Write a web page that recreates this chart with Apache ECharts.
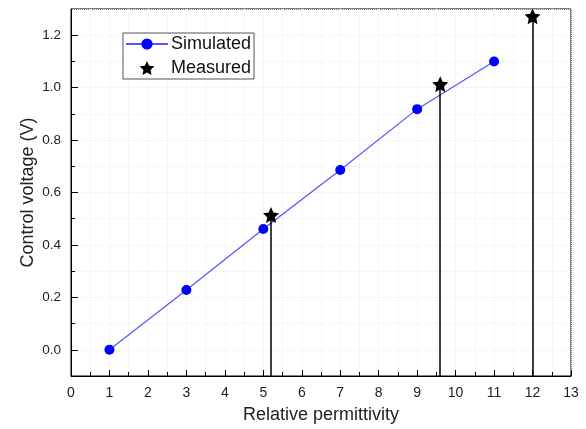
<!DOCTYPE html>
<html>
<head>
<meta charset="utf-8">
<script src="https://cdn.jsdelivr.net/npm/echarts@6/dist/echarts.min.js"></script>
<style>
  html, body { margin: 0; padding: 0; background: #fff; }
  #chart { width: 586px; height: 429px; }
</style>
</head>
<body>
<div id="chart"></div>
<script>
// Data
const simX = [1, 3, 5, 7, 9, 11];
const simY = [0.0, 0.228, 0.461, 0.686, 0.918, 1.10];
const measX = [5.2, 9.6, 12];
const measY = [0.514, 1.013, 1.272];
const yMajor = [0, 0.2, 0.4, 0.6, 0.8, 1.0, 1.2];

const Y_MIN = -0.1, Y_MAX = 1.3;
const starPath = 'path://M50,0 L64.1,30.6 L97.6,34.5 L72.8,57.4 L79.4,90.5 L50,74 L20.6,90.5 L27.2,57.4 L2.4,34.5 L35.9,30.6 Z';
const font = 'Liberation Sans, Arial, sans-serif';

document.addEventListener('DOMContentLoaded', function() {
    const chart = echarts.init(document.getElementById('chart'));

    // vertical drop lines from the bottom of the plot up to each measured star
    const dropLines = measX.map((x, i) => [
        { coord: [x, Y_MIN] },
        { coord: [x, measY[i]] }
    ]);

    const option = {
        animation: false,
        grid: {
            left: 71, right: 15, top: 9, bottom: 53,
            show: true, borderColor: '#000', borderWidth: 1
        },
        legend: {
            left: 123, top: 33,
            orient: 'vertical',
            backgroundColor: '#fff',
            borderColor: '#555', borderWidth: 1,
            padding: [2, 3, 2, 2],
            itemGap: 6,
            itemWidth: 42, itemHeight: 14,
            textStyle: { fontFamily: font, fontSize: 18, color: '#111', padding: [0, 0, 0, -2] },
            data: ['Simulated', 'Measured']
        },
        xAxis: {
            type: 'value',
            min: 0, max: 13, interval: 1,
            name: 'Relative permittivity',
            nameLocation: 'middle', nameGap: 30,
            nameMoveOverlap: false,
            nameTextStyle: { fontFamily: font, fontSize: 18, color: '#222' },
            axisLine: { show: true, onZero: false, lineStyle: { color: '#000', width: 1 } },
            axisTick: { show: true, inside: true, length: 6, lineStyle: { color: '#000' } },
            minorTick: { show: true, splitNumber: 2, length: 4, lineStyle: { color: '#000' } },
            axisLabel: { fontFamily: font, fontSize: 14, color: '#222', margin: 10 },
            splitLine: { show: true, lineStyle: { color: '#ebebeb', type: 'dotted' } },
            minorSplitLine: { show: true, lineStyle: { color: '#ebebeb', type: 'dotted' } }
        },
        yAxis: [{
            type: 'value',
            min: Y_MIN, max: Y_MAX, interval: 0.1,
            name: 'Control voltage (V)',
            nameLocation: 'middle', nameGap: 34,
            nameMoveOverlap: false,
            nameTextStyle: { fontFamily: font, fontSize: 18, color: '#222' },
            axisLine: { show: true, onZero: false, lineStyle: { color: '#000', width: 1 } },
            axisTick: { show: true, inside: true, length: 4, lineStyle: { color: '#000' } },
            axisLabel: {
                fontFamily: font, fontSize: 13.5, color: '#222', margin: 10,
                showMinLabel: false, showMaxLabel: false,
                formatter: function(v) {
                    const k = Math.round(v * 10);
                    return (k % 2 === 0 && k >= 0 && k <= 12) ? (k / 10).toFixed(1) : '';
                }
            },
            splitLine: { show: true, lineStyle: { color: '#ebebeb', type: 'dotted' } }
        }, {
            type: 'value',
            position: 'left',
            min: Y_MIN, max: Y_MAX,
            axisLine: { show: false, onZero: false },
            axisLabel: { show: false },
            splitLine: { show: false },
            axisTick: {
                show: true, inside: true, length: 7,
                customValues: yMajor,
                lineStyle: { color: '#000' }
            }
        }],
        series: [{
            name: 'Simulated',
            type: 'line',
            data: simX.map((x, i) => [x, simY[i]]),
            symbol: 'circle', symbolSize: 10,
            lineStyle: { color: '#5555ff', width: 1.2 },
            itemStyle: { color: '#0000ff' },
            z: 3
        }, {
            name: 'Measured',
            type: 'scatter',
            data: measX.map((x, i) => [x, measY[i]]),
            symbol: starPath, symbolSize: 16,
            itemStyle: { color: '#000', opacity: 1 },
            z: 4,
            markLine: {
                silent: true,
                symbol: 'none',
                label: { show: false },
                lineStyle: { color: '#000', width: 1.5, type: 'solid' },
                data: dropLines
            }
        }]
    };

    chart.setOption(option);
});
</script>
</body>
</html>
